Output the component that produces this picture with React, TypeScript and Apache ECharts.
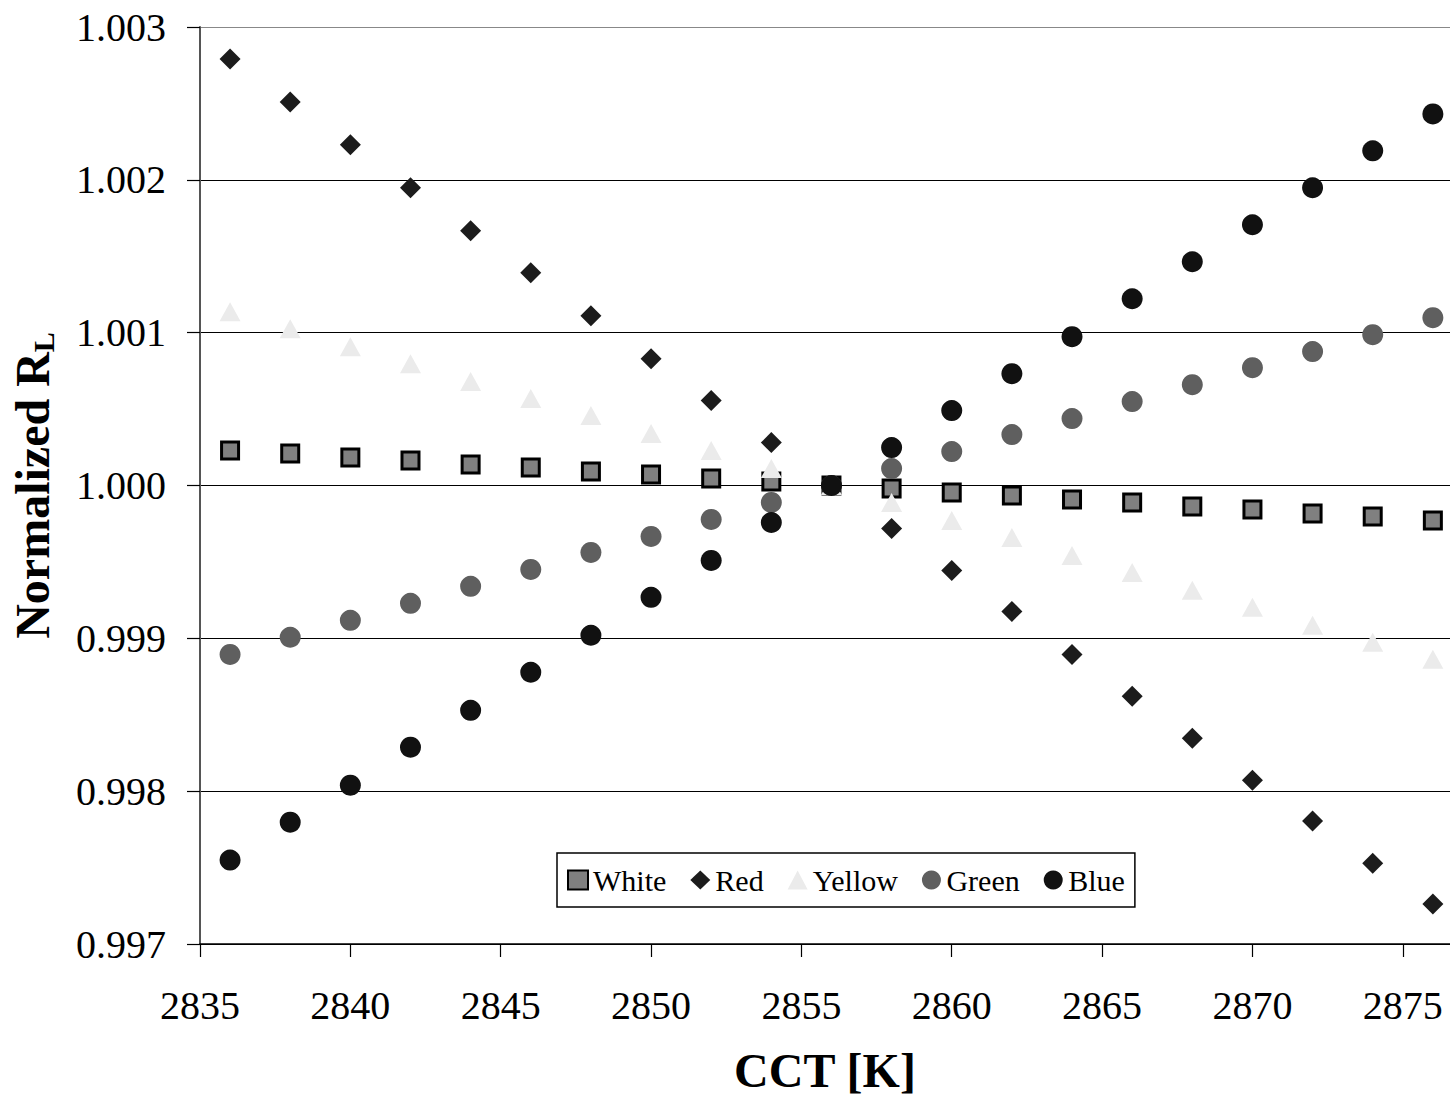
import React, { useEffect, useRef } from "react";
import * as echarts from "echarts";

// CCT sample points [K]
const cct = [2836, 2838, 2840, 2842, 2844, 2846, 2848, 2850, 2852, 2854, 2856, 2858, 2860, 2862, 2864, 2866, 2868, 2870, 2872, 2874, 2876];

const white = [1.000229, 1.000209, 1.000183, 1.000163, 1.000137, 1.000118, 1.000092, 1.000072, 1.000046, 1.000026, 1.0, 0.99998, 0.999954, 0.999935, 0.999908, 0.999889, 0.999863, 0.999843, 0.999817, 0.999797, 0.999771];
const red = [1.002791, 1.00251, 1.002229, 1.001948, 1.001667, 1.001392, 1.001111, 1.00083, 1.000556, 1.000281, 1.0, 0.999719, 0.999444, 0.999176, 0.998895, 0.998621, 0.998346, 0.998072, 0.997804, 0.997529, 0.997261];
const yellow = [1.001137, 1.001026, 1.000908, 1.000797, 1.00068, 1.000569, 1.000458, 1.00034, 1.000229, 1.000111, 1.0, 0.999889, 0.999771, 0.99966, 0.999542, 0.999431, 0.999314, 0.999203, 0.999085, 0.998974, 0.998863];
const green = [0.998895, 0.999007, 0.999118, 0.999229, 0.99934, 0.999451, 0.999562, 0.999667, 0.999778, 0.999889, 1.0, 1.000111, 1.000222, 1.000333, 1.000438, 1.000549, 1.00066, 1.000771, 1.000876, 1.000987, 1.001098];
const blue = [0.997549, 0.997797, 0.998039, 0.998288, 0.998529, 0.998778, 0.99902, 0.999268, 0.99951, 0.999758, 1.0, 1.000248, 1.00049, 1.000732, 1.000974, 1.001222, 1.001464, 1.001706, 1.001948, 1.00219, 1.002431];

const FONT = "'Liberation Serif', 'Times New Roman', serif";

const pair = (ys: number[]) => cct.map((x, i) => [x, ys[i]]);

export default function App() {
  const ref = useRef<HTMLDivElement>(null);

  useEffect(() => {
    if (!ref.current) return;
    const chart = echarts.init(ref.current, undefined, { renderer: "svg" });

    const seriesDefs = [
      { name: "White", data: white, symbol: "rect", size: 17, color: "#808080", border: "#000", bw: 3 },
      { name: "Red", data: red, symbol: "diamond", size: 21, color: "#1c1c1c", border: "#1c1c1c", bw: 0 },
      { name: "Yellow", data: yellow, symbol: "triangle", size: [21, 19], color: "#ebebeb", border: "#ebebeb", bw: 0 },
      { name: "Green", data: green, symbol: "circle", size: 21, color: "#5f5f5f", border: "#5f5f5f", bw: 0 },
      { name: "Blue", data: blue, symbol: "circle", size: 21, color: "#111111", border: "#111111", bw: 0 },
    ];

    chart.setOption({
      animation: false,
      backgroundColor: "#ffffff",
      textStyle: { fontFamily: FONT },
      grid: { left: 200, right: 0, top: 27, bottom: 154, containLabel: false, outerBoundsMode: "none" },
      legend: {
        left: 557,
        top: 853,
        orient: "horizontal",
        itemWidth: 20,
        itemHeight: 19,
        itemGap: 24,
        padding: [12, 10, 12, 10],
        borderColor: "#000",
        borderWidth: 1.5,
        backgroundColor: "#fff",
        textStyle: { fontFamily: FONT, fontSize: 30, color: "#000" },
        data: seriesDefs.map((s) => s.name),
      },
      xAxis: {
        type: "value",
        min: 2835,
        max: 2876.57,
        interval: 5,
        name: "CCT [K]",
        nameLocation: "middle",
        nameGap: 102,
        nameTextStyle: { fontFamily: FONT, fontSize: 48, fontWeight: "bold", color: "#000" },
        axisLine: { show: true, lineStyle: { color: "#000", width: 1.5 } },
        axisTick: { show: true, length: 13, lineStyle: { color: "#000", width: 1.2 } },
        splitLine: { show: false },
        axisLabel: {
          fontFamily: FONT,
          fontSize: 40,
          color: "#000",
          margin: 41,
          showMaxLabel: false,
          formatter: (v: number) => (Math.abs(v % 5) < 1e-6 ? String(v) : ""),
        },
      },
      yAxis: {
        type: "value",
        min: 0.997,
        max: 1.003,
        interval: 0.001,
        name: "{b|Normalized R}{s|L}",
        nameLocation: "middle",
        nameGap: 142,
        nameRotate: 90,
        nameTextStyle: {
          rich: {
            b: { fontFamily: FONT, fontSize: 48, fontWeight: "bold", color: "#000" },
            s: { fontFamily: FONT, fontSize: 30, fontWeight: "bold", color: "#000", padding: [22, 0, 0, 0] },
          },
        },
        axisLine: { show: true, lineStyle: { color: "#555", width: 2 } },
        axisTick: { show: true, length: 13, lineStyle: { color: "#000", width: 1.2 } },
        splitLine: {
          show: true,
          lineStyle: { color: ["#000", "#000", "#000", "#000", "#000", "#000", "#888"], width: 1.2 },
        },
        axisLabel: {
          fontFamily: FONT,
          fontSize: 40,
          color: "#000",
          margin: 34,
          formatter: (v: number) => v.toFixed(3),
        },
      },
      series: seriesDefs.map((s, i) => ({
        name: s.name,
        type: "scatter",
        data: pair(s.data),
        symbol: s.symbol,
        symbolSize: s.size,
        z: 2 + i,
        itemStyle: { color: s.color, borderColor: s.border, borderWidth: s.bw, opacity: 1 },
        emphasis: { disabled: true },
      })),
    });

    return () => chart.dispose();
  }, []);

  return <div ref={ref} style={{ width: 1450, height: 1098, position: "absolute", left: 0, top: 0 }} />;
}
